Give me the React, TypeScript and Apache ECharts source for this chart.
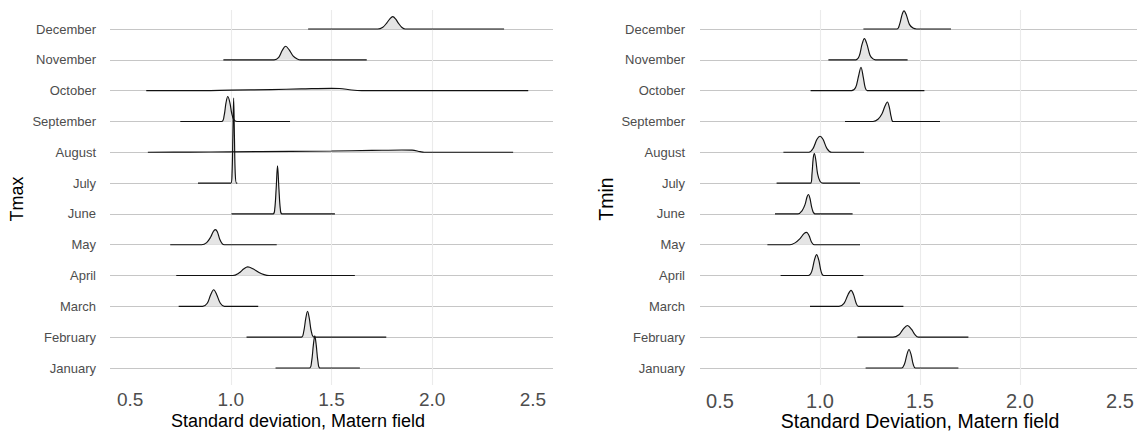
import React, { useEffect, useRef } from "react";
import * as echarts from "echarts";

const months = [
  "January", "February", "March", "April", "May", "June",
  "July", "August", "September", "October", "November", "December",
];
const xTicks = [0.5, 1.0, 1.5, 2.0, 2.5];

// Ridge outlines: [standard deviation, ridge height in row units]
// ---- Tmax ----
const tmaxJan = [[1.222, 0], [1.39, 0], [1.401, 0.2], [1.41, 0.75], [1.417, 1.04], [1.424, 0.75], [1.433, 0.2], [1.444, 0], [1.641, 0]];
const tmaxFeb = [[1.078, 0], [1.35, 0], [1.362, 0.18], [1.372, 0.6], [1.381, 0.84], [1.39, 0.6], [1.4, 0.18], [1.414, 0], [1.772, 0]];
const tmaxMar = [[0.741, 0], [0.86, 0], [0.883, 0.1], [0.9, 0.38], [0.915, 0.54], [0.93, 0.38], [0.948, 0.1], [0.968, 0], [1.136, 0]];
const tmaxApr = [[0.729, 0], [1.01, 0], [1.04, 0.08], [1.065, 0.22], [1.084, 0.28], [1.11, 0.22], [1.14, 0.1], [1.165, 0.03], [1.19, 0], [1.616, 0]];
const tmaxMay = [[0.699, 0], [0.855, 0], [0.88, 0.07], [0.9, 0.25], [0.913, 0.43], [0.923, 0.49], [0.933, 0.42], [0.945, 0.18], [0.958, 0.03], [0.968, 0], [1.228, 0]];
const tmaxJun = [[1.003, 0], [1.21, 0], [1.218, 0.15], [1.225, 0.8], [1.232, 1.56], [1.239, 0.8], [1.246, 0.15], [1.254, 0], [1.517, 0]];
const tmaxJul = [[0.837, 0], [1.0, 0], [1.006, 0.3], [1.01, 1.5], [1.014, 2.76], [1.018, 1.5], [1.022, 0.3], [1.028, 0], [1.032, 0]];
const tmaxAug = [[0.588, 0], [0.8, 0.005], [1.0, 0.015], [1.3, 0.03], [1.5, 0.04], [1.7, 0.06], [1.85, 0.075], [1.9, 0.07], [1.94, 0.02], [1.96, 0], [2.402, 0]];
const tmaxSep = [[0.749, 0], [0.955, 0], [0.967, 0.2], [0.976, 0.6], [0.985, 0.81], [0.995, 0.62], [1.005, 0.25], [1.015, 0.06], [1.03, 0], [1.294, 0]];
const tmaxOct = [[0.58, 0], [0.8, 0], [1.0, 0.015], [1.2, 0.035], [1.35, 0.055], [1.5, 0.075], [1.54, 0.07], [1.6, 0.02], [1.65, 0], [2.477, 0]];
const tmaxNov = [[0.963, 0], [1.215, 0], [1.238, 0.08], [1.255, 0.3], [1.272, 0.44], [1.29, 0.32], [1.31, 0.12], [1.33, 0.03], [1.347, 0], [1.675, 0]];
const tmaxDec = [[1.384, 0], [1.73, 0], [1.755, 0.06], [1.775, 0.2], [1.79, 0.33], [1.804, 0.4], [1.818, 0.33], [1.833, 0.18], [1.85, 0.05], [1.866, 0], [2.357, 0]];

// ---- Tmin ----
const tminJan = [[1.228, 0], [1.408, 0], [1.422, 0.12], [1.434, 0.42], [1.445, 0.6], [1.456, 0.42], [1.466, 0.12], [1.477, 0], [1.692, 0]];
const tminFeb = [[1.187, 0], [1.365, 0], [1.395, 0.08], [1.415, 0.25], [1.437, 0.38], [1.458, 0.25], [1.475, 0.08], [1.492, 0], [1.742, 0]];
const tminMar = [[0.95, 0], [1.095, 0], [1.12, 0.1], [1.14, 0.38], [1.155, 0.52], [1.168, 0.38], [1.18, 0.12], [1.192, 0], [1.417, 0]];
const tminApr = [[0.803, 0], [0.942, 0], [0.958, 0.12], [0.972, 0.5], [0.983, 0.68], [0.994, 0.5], [1.006, 0.12], [1.018, 0], [1.217, 0]];
const tminMay = [[0.737, 0], [0.85, 0], [0.875, 0.06], [0.9, 0.2], [0.92, 0.36], [0.933, 0.4], [0.945, 0.3], [0.958, 0.08], [0.972, 0], [1.2, 0]];
const tminJun = [[0.775, 0], [0.89, 0], [0.91, 0.1], [0.925, 0.3], [0.935, 0.55], [0.942, 0.63], [0.95, 0.5], [0.96, 0.18], [0.975, 0], [1.163, 0]];
const tminJul = [[0.783, 0], [0.953, 0], [0.96, 0.3], [0.966, 0.8], [0.972, 0.96], [0.979, 0.75], [0.988, 0.3], [1.0, 0.06], [1.014, 0], [1.2, 0]];
const tminAug = [[0.817, 0], [0.945, 0], [0.965, 0.12], [0.985, 0.42], [1.0, 0.52], [1.015, 0.42], [1.035, 0.12], [1.058, 0], [1.22, 0]];
const tminSep = [[1.125, 0], [1.265, 0], [1.29, 0.07], [1.31, 0.25], [1.325, 0.5], [1.337, 0.63], [1.347, 0.45], [1.356, 0.15], [1.366, 0], [1.6, 0]];
const tminOct = [[0.953, 0], [1.158, 0], [1.178, 0.1], [1.192, 0.45], [1.205, 0.76], [1.216, 0.45], [1.226, 0.1], [1.236, 0], [1.522, 0]];
const tminNov = [[1.042, 0], [1.18, 0], [1.196, 0.12], [1.21, 0.5], [1.222, 0.69], [1.235, 0.5], [1.25, 0.15], [1.265, 0.03], [1.278, 0], [1.438, 0]];
const tminDec = [[1.217, 0], [1.385, 0], [1.398, 0.15], [1.41, 0.46], [1.42, 0.59], [1.432, 0.45], [1.447, 0.15], [1.465, 0.03], [1.483, 0], [1.655, 0]];

const tmaxRidges = [tmaxJan, tmaxFeb, tmaxMar, tmaxApr, tmaxMay, tmaxJun, tmaxJul, tmaxAug, tmaxSep, tmaxOct, tmaxNov, tmaxDec];
const tminRidges = [tminJan, tminFeb, tminMar, tminApr, tminMay, tminJun, tminJul, tminAug, tminSep, tminOct, tminNov, tminDec];

const FONT = "Liberation Sans, Arial, Helvetica, sans-serif";

type PanelCfg = {
  left: number;
  right: number;
  xMin: number;
  xMax: number;
  tickFont: number;
  tickMargin: number;
  labelMargin: number;
  ridges: number[][][];
};

function buildPanel(p: number, cfg: PanelCfg) {
  const gA = 2 * p;
  const gB = 2 * p + 1;
  const grids = [
    { left: cfg.left, right: cfg.right, top: 10, bottom: 50 },
    { left: cfg.left, right: cfg.right, top: 29, bottom: 67 },
  ];
  const xAxes = [
    {
      type: "value",
      gridIndex: gA,
      min: cfg.xMin,
      max: cfg.xMax,
      axisLine: { show: false },
      axisTick: { show: false, customValues: xTicks },
      axisLabel: {
        customValues: xTicks,
        formatter: (v: number) => v.toFixed(1),
        fontSize: cfg.tickFont,
        lineHeight: 15,
        color: "#4d4d4d",
        fontFamily: FONT,
        margin: cfg.tickMargin,
      },
      splitLine: {
        show: true,
        showMinLine: false,
        showMaxLine: false,
        lineStyle: { color: "#ebebeb", width: 1.1 },
      },
    },
    { type: "value", gridIndex: gB, min: cfg.xMin, max: cfg.xMax, show: false },
  ];
  const yAxes = [
    { type: "value", gridIndex: gA, min: 0, max: 1, show: false },
    {
      type: "value",
      gridIndex: gB,
      min: 0,
      max: 11,
      interval: 1,
      axisLine: { show: false },
      axisTick: { show: false },
      axisLabel: {
        formatter: (v: number) => months[Math.round(v)] ?? "",
        fontSize: 13,
        color: "#4d4d4d",
        fontFamily: FONT,
        margin: cfg.labelMargin,
      },
      splitLine: { show: true, lineStyle: { color: "#c6c6c6", width: 1 } },
    },
  ];
  const series: any[] = [];
  for (let m = 11; m >= 0; m--) {
    series.push({
      type: "line",
      name: `${p}-${months[m]}`,
      xAxisIndex: gB,
      yAxisIndex: gB,
      data: cfg.ridges[m].map(([x, h]) => [x, m + h]),
      smooth: 0.35,
      showSymbol: false,
      symbol: "none",
      clip: false,
      silent: true,
      lineStyle: { color: "#111111", width: 1.15 },
      areaStyle: { color: "#e5e5e5", opacity: 1, origin: m },
      z: 2,
    });
  }
  return { grids, xAxes, yAxes, series };
}

export default function App() {
  const ref = useRef<HTMLDivElement>(null);
  useEffect(() => {
    if (!ref.current) return;
    const chart = echarts.init(ref.current, undefined, { renderer: "svg" });
    const left = buildPanel(0, {
      left: 110, right: 584, xMin: 0.4, xMax: 2.6, tickFont: 19, tickMargin: 7, labelMargin: 14, ridges: tmaxRidges,
    });
    const right = buildPanel(1, {
      left: 700, right: 0, xMin: 0.4, xMax: 2.585, tickFont: 20, tickMargin: 8, labelMargin: 15, ridges: tminRidges,
    });
    chart.setOption({
      animation: false,
      backgroundColor: "#ffffff",
      grid: [...left.grids, ...right.grids],
      xAxis: [...left.xAxes, ...right.xAxes],
      yAxis: [...left.yAxes, ...right.yAxes],
      series: [...left.series, ...right.series],
      graphic: [
        {
          type: "text", x: 298, y: 421,
          style: { text: "Standard deviation, Matern field", fontSize: 18, lineHeight: 15, fontFamily: FONT, fill: "#000", textAlign: "center", textVerticalAlign: "middle" },
        },
        {
          type: "text", x: 920, y: 421,
          style: { text: "Standard Deviation, Matern field", fontSize: 19.5, lineHeight: 15, fontFamily: FONT, fill: "#000", textAlign: "center", textVerticalAlign: "middle" },
        },
        {
          type: "text", x: 17, y: 199, rotation: Math.PI / 2,
          style: { text: "Tmax", fontSize: 18, fontFamily: FONT, fill: "#000", textAlign: "center", textVerticalAlign: "middle" },
        },
        {
          type: "text", x: 606, y: 199, rotation: Math.PI / 2,
          style: { text: "Tmin", fontSize: 19.5, fontFamily: FONT, fill: "#000", textAlign: "center", textVerticalAlign: "middle" },
        },
      ],
    });
    return () => chart.dispose();
  }, []);
  return (
    <div
      ref={ref}
      style={{ position: "fixed", left: 0, top: 0, width: 1137, height: 435, background: "#fff" }}
    />
  );
}
